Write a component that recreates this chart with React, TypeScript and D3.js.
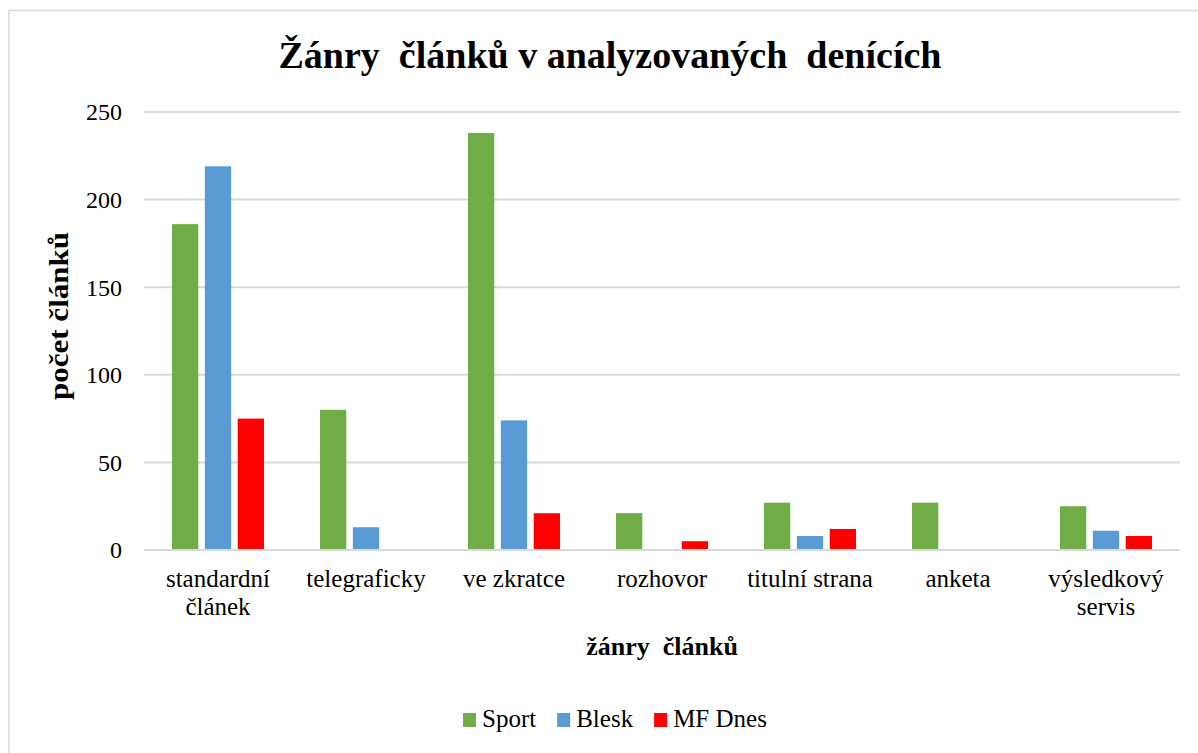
import React, { useEffect, useRef } from "react";
import * as d3 from "d3";

const categories = [
  "standardní článek",
  "telegraficky",
  "ve zkratce",
  "rozhovor",
  "titulní strana",
  "anketa",
  "výsledkový servis",
];
const seriesNames = ["Sport", "Blesk", "MF Dnes"];
const sportValues = [186, 80, 238, 21, 27, 27, 25];
const bleskValues = [219, 13, 74, 0, 8, 0, 11];
const mfDnesValues = [75, 0, 21, 5, 12, 0, 8];
const seriesColors = ["#70AD47", "#5B9BD5", "#FF0000"];
const yTicks = [0, 50, 100, 150, 200, 250];
const title = "Žánry  článků v analyzovaných  denících";
const yTitle = "počet článků";
const xTitle = "žánry  článků";

const W = 1198;
const H = 753;
const FONT = "'Liberation Serif', 'Times New Roman', serif";

export default function App() {
  const ref = useRef<SVGSVGElement>(null);

  useEffect(() => {
    document.body.style.margin = "0";
    const svg = d3.select(ref.current);
    svg.selectAll("*").remove();

    const left = 144;
    const right = 1180;
    const top = 112;
    const bottom = 550;

    // chart border
    svg
      .append("rect")
      .attr("x", 9)
      .attr("y", 10.5)
      .attr("width", 1210)
      .attr("height", 780)
      .attr("fill", "#fff")
      .attr("stroke", "#d9d9d9")
      .attr("stroke-width", 1.5);

    const x = d3.scaleBand<string>().domain(categories).range([left, right]).padding(0);
    const inner = d3
      .scaleBand<string>()
      .domain(seriesNames)
      .range([28, x.bandwidth() - 28])
      .paddingInner(0.2)
      .paddingOuter(0);
    const y = d3.scaleLinear().domain([0, 250]).range([bottom, top]);

    // gridlines
    svg
      .append("g")
      .selectAll("line")
      .data(yTicks)
      .join("line")
      .attr("x1", left)
      .attr("x2", right)
      .attr("y1", (d) => y(d))
      .attr("y2", (d) => y(d))
      .attr("stroke", "#d9d9d9")
      .attr("stroke-width", 2);

    // y tick labels
    svg
      .append("g")
      .selectAll("text")
      .data(yTicks)
      .join("text")
      .attr("x", 122)
      .attr("y", (d) => y(d))
      .attr("dy", "0.35em")
      .attr("text-anchor", "end")
      .attr("font-family", FONT)
      .attr("font-size", 24)
      .attr("fill", "#000")
      .text((d) => String(d));

    // bars
    const allSeries = [sportValues, bleskValues, mfDnesValues];
    allSeries.forEach((vals, si) => {
      svg
        .append("g")
        .selectAll("rect")
        .data(vals.map((v, i) => ({ v, c: categories[i] })).filter((d) => d.v > 0))
        .join("rect")
        .attr("x", (d) => (x(d.c) as number) + (inner(seriesNames[si]) as number))
        .attr("width", inner.bandwidth())
        .attr("y", (d) => y(d.v))
        .attr("height", (d) => y(0) - y(d.v))
        .attr("fill", seriesColors[si]);
    });

    // axis line on top
    svg
      .append("line")
      .attr("x1", left)
      .attr("x2", right)
      .attr("y1", y(0))
      .attr("y2", y(0))
      .attr("stroke", "#d9d9d9")
      .attr("stroke-width", 2);

    // x tick labels with wrapping
    const maxW = x.bandwidth() - 6;
    categories.forEach((c) => {
      const cx = (x(c) as number) + x.bandwidth() / 2;
      const t = svg
        .append("text")
        .attr("x", cx)
        .attr("y", 587)
        .attr("text-anchor", "middle")
        .attr("font-family", FONT)
        .attr("font-size", 25)
        .attr("fill", "#000");
      const words = c.split(" ");
      let line: string[] = [];
      let tspan = t.append("tspan").attr("x", cx).attr("dy", 0);
      words.forEach((w) => {
        line.push(w);
        tspan.text(line.join(" "));
        if ((tspan.node() as SVGTSpanElement).getComputedTextLength() > maxW && line.length > 1) {
          line.pop();
          tspan.text(line.join(" "));
          line = [w];
          tspan = t.append("tspan").attr("x", cx).attr("dy", 28).text(w);
        }
      });
    });

    // title
    svg
      .append("text")
      .attr("x", 610)
      .attr("y", 68)
      .attr("text-anchor", "middle")
      .attr("font-family", FONT)
      .attr("font-size", 38)
      .attr("font-weight", "bold")
      .attr("fill", "#000")
      .style("white-space", "pre")
      .text(title);

    // y title
    svg
      .append("text")
      .attr("transform", `translate(68,316) rotate(-90) scale(1.15,1)`)
      .attr("text-anchor", "middle")
      .attr("font-family", FONT)
      .attr("font-size", 27)
      .attr("font-weight", "bold")
      .attr("fill", "#000")
      .text(yTitle);

    // x title
    svg
      .append("text")
      .attr("x", 662)
      .attr("y", 655)
      .attr("text-anchor", "middle")
      .attr("font-family", FONT)
      .attr("font-size", 26)
      .attr("font-weight", "bold")
      .attr("fill", "#000")
      .style("white-space", "pre")
      .text(xTitle);

    // legend
    const legend = svg.append("g");
    let lx = 463;
    seriesNames.forEach((s, i) => {
      legend
        .append("rect")
        .attr("x", lx)
        .attr("y", 713)
        .attr("width", 13)
        .attr("height", 14)
        .attr("fill", seriesColors[i]);
      const t = legend
        .append("text")
        .attr("x", lx + 19)
        .attr("y", 727)
        .attr("font-family", FONT)
        .attr("font-size", 25)
        .attr("fill", "#000")
        .text(s);
      lx += 19 + (t.node() as SVGTextElement).getComputedTextLength() + 21;
    });
  }, []);

  return <svg ref={ref} width={W} height={H} style={{ display: "block" }} />;
}
